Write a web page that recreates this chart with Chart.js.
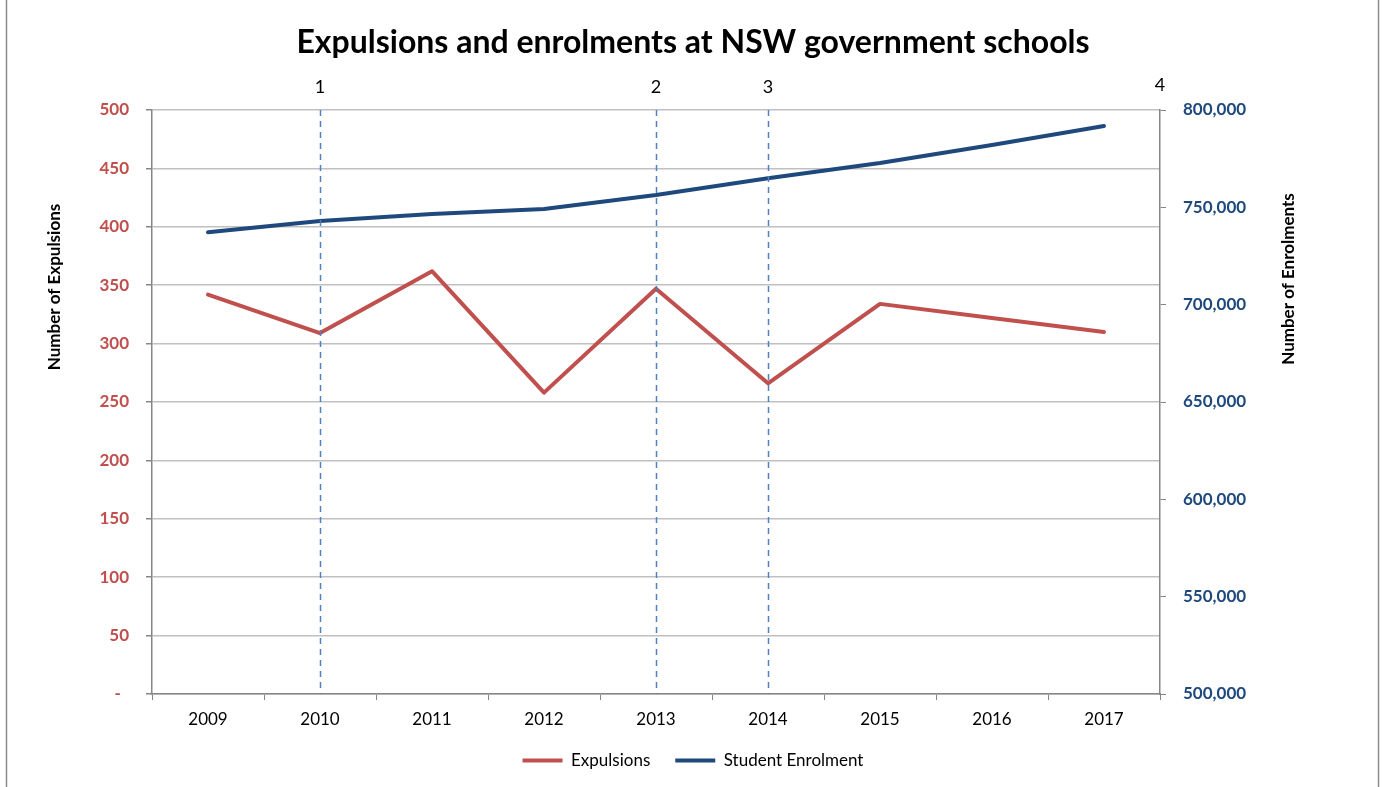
<!DOCTYPE html>
<html>
<head>
<meta charset="utf-8">
<script src="https://cdn.jsdelivr.net/npm/chart.js@4.4.0/dist/chart.umd.min.js"></script>
<style>
  html, body { margin: 0; padding: 0; background: #fff; }
  canvas { display: block; }
</style>
</head>
<body>
<canvas id="chart" width="1386" height="787"></canvas>
<script>
// data
var years = ['2009', '2010', '2011', '2012', '2013', '2014', '2015', '2016', '2017'];
var expulsions = [342, 309, 362, 258, 347, 266, 334, 322, 310];
var enrolments = [737200, 743000, 746600, 749100, 756300, 764900, 772800, 782000, 791800];

var expulsionAxis = { min: 0, max: 500, step: 50 };
var enrolmentAxis = { min: 500000, max: 800000, step: 50000 };

// dashed marker lines (numbered above the plot)
var markerYears = ['2010', '2013', '2014'];
var markerLabels = ['1', '2', '3', '4'];

var RED = '#C0504D';
var BLUE = '#1F497D';
var AXIS = '#868686';

Chart.defaults.font.family = 'Lato';

var extras = {
  id: 'extras',
  afterDatasetsDraw: function (chart) {
    var ctx = chart.ctx;
    var area = chart.chartArea;
    var x = chart.scales.x;

    // marker lines
    ctx.save();
    ctx.strokeStyle = '#4F81BD';
    ctx.lineWidth = 1.5;
    ctx.setLineDash([6, 5]);
    markerYears.forEach(function (yr) {
      var px = Math.round(x.getPixelForValue(years.indexOf(yr))) + 0.5;
      ctx.beginPath();
      ctx.moveTo(px, area.top);
      ctx.lineTo(px, area.bottom);
      ctx.stroke();
    });
    ctx.restore();

    ctx.save();
    ctx.fillStyle = '#000';
    ctx.font = '18px Lato';
    ctx.textAlign = 'center';
    ctx.textBaseline = 'middle';
    markerYears.forEach(function (yr, i) {
      ctx.fillText(markerLabels[i], x.getPixelForValue(years.indexOf(yr)), area.top - 23);
    });
    ctx.fillText(markerLabels[3], x.right, area.top - 25);
    ctx.restore();
  },
  afterDraw: function (chart) {
    var ctx = chart.ctx;
    // axis titles
    ctx.save();
    ctx.fillStyle = '#000';
    ctx.font = 'bold 17px Lato';
    ctx.textAlign = 'center';
    ctx.textBaseline = 'middle';
    ctx.translate(55, 287);
    ctx.rotate(-Math.PI / 2);
    ctx.fillText('Number of Expulsions', 0, 0);
    ctx.restore();

    ctx.save();
    ctx.fillStyle = '#000';
    ctx.font = 'bold 17px Lato';
    ctx.textAlign = 'center';
    ctx.textBaseline = 'middle';
    ctx.translate(1289, 279);
    ctx.rotate(-Math.PI / 2);
    ctx.fillText('Number of Enrolments', 0, 0);
    ctx.restore();

    // outer frame
    ctx.save();
    ctx.strokeStyle = '#8C8C8C';
    ctx.lineWidth = 1.5;
    ctx.strokeRect(6.5, -2, 1372, 800);
    ctx.restore();
  }
};

new Chart(document.getElementById('chart'), {
  type: 'line',
  data: {
    labels: years,
    datasets: [{
      label: 'Expulsions',
      data: expulsions,
      yAxisID: 'y',
      borderColor: RED,
      backgroundColor: RED,
      borderWidth: 4,
      borderCapStyle: 'round',
      borderJoinStyle: 'round',
      pointRadius: 0,
      tension: 0
    }, {
      label: 'Student Enrolment',
      data: enrolments,
      yAxisID: 'y1',
      borderColor: BLUE,
      backgroundColor: BLUE,
      borderWidth: 4,
      borderCapStyle: 'round',
      borderJoinStyle: 'round',
      pointRadius: 0,
      tension: 0
    }]
  },
  options: {
    responsive: false,
    animation: false,
    devicePixelRatio: 1,
    layout: { padding: { left: 0, right: 0, top: 0, bottom: 8 } },
    plugins: {
      title: {
        display: true,
        text: 'Expulsions and enrolments at NSW government schools',
        color: '#000',
        font: { size: 32, weight: 'bold' },
        padding: { top: 23, bottom: 48.6 }
      },
      legend: {
        position: 'bottom',
        labels: {
          color: '#000',
          font: { size: 17 },
          usePointStyle: true,
          pointStyle: 'line',
          pointStyleWidth: 40,
          padding: 25
        }
      },
      tooltip: { enabled: false }
    },
    scales: {
      x: {
        offset: true,
        grid: {
          offset: true,
          drawOnChartArea: false,
          tickLength: 6,
          tickColor: AXIS
        },
        border: { color: AXIS, width: 1.5 },
        ticks: { color: '#000', font: { size: 17 }, padding: 9 },
        afterFit: function (s) { s.height = 33; }
      },
      y: {
        position: 'left',
        min: expulsionAxis.min,
        max: expulsionAxis.max,
        grid: { color: '#C0C0C0', lineWidth: 1.5, tickLength: 6, tickColor: AXIS },
        border: { color: AXIS, width: 1.5 },
        ticks: {
          stepSize: expulsionAxis.step,
          color: RED,
          font: { size: 17, weight: 'bold' },
          padding: 17,
          callback: function (v) { return v === 0 ? '-  ' : v; }
        },
        afterFit: function (s) { s.width = 152; }
      },
      y1: {
        position: 'right',
        min: enrolmentAxis.min,
        max: enrolmentAxis.max,
        grid: { drawOnChartArea: false, tickLength: 6, tickColor: AXIS },
        border: { color: AXIS, width: 1.5 },
        ticks: {
          stepSize: enrolmentAxis.step,
          color: BLUE,
          font: { size: 17, weight: 'bold' },
          padding: 17,
          callback: function (v) { return v.toLocaleString('en-US'); }
        },
        afterFit: function (s) { s.width = 226; }
      }
    }
  },
  plugins: [extras]
});
</script>
</body>
</html>
